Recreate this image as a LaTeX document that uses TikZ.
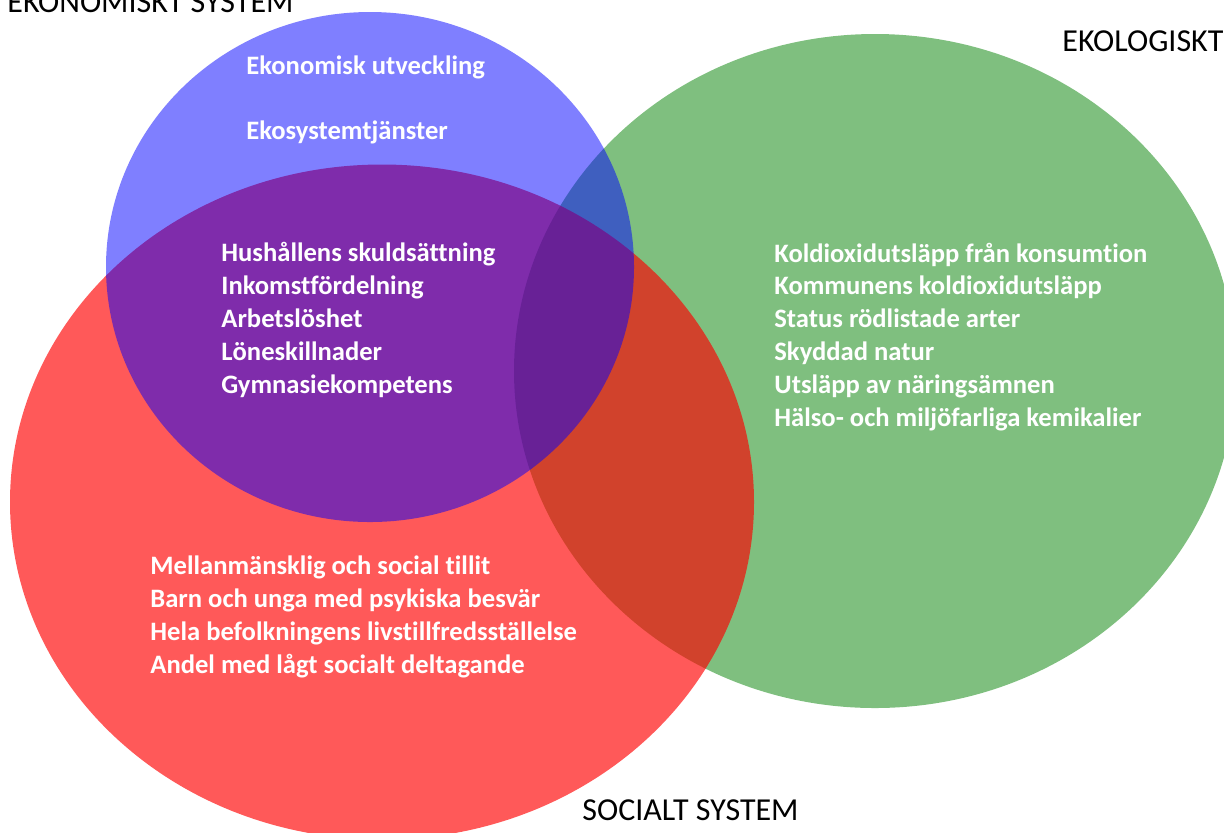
\documentclass[tikz,border=0pt]{standalone}
\usepackage{fontspec}
\setmainfont{Carlito}[Ligatures=NoCommon]
\definecolor{ecoblue}{RGB}{0,0,255}
\definecolor{socred}{RGB}{255,0,0}
\definecolor{ekogreen}{RGB}{0,128,0}
\tikzset{
  item/.style={anchor=base west, inner sep=0pt, text=white, font=\fontsize{13.3pt}{16.5pt}\selectfont\bfseries},
  syslabel/.style={anchor=base west, inner sep=0pt, text=black, font=\fontsize{16pt}{19pt}\selectfont},
}
\begin{document}
\begin{tikzpicture}[x=0.5pt,y=-0.5pt]
\useasboundingbox (0,0) rectangle (1224,832);
% ellipses: green, red, blue (blue on top)
\fill[ekogreen, fill opacity=0.5] (875,371) ellipse [x radius=180.5pt, y radius=168.5pt];
\fill[socred, fill opacity=0.65] (382,502) ellipse [x radius=186pt, y radius=168.75pt];
\fill[ecoblue, fill opacity=0.5] (370,267) ellipse [x radius=132pt, y radius=127.5pt];
% system labels
\node[syslabel] (lek) at (7,12) {EKONOMISKT SYSTEM};
\node[syslabel] (lko) at (1062,51) {EKOLOGISKT};
\node[syslabel] (lso) at (582,820) {SOCIALT SYSTEM};
% blue only
\node[item] (b1) at (246,74) {Ekonomisk utveckling};
\node[item] (b2) at (246,139) {Ekosystemtjänster};
% purple overlap
\foreach \t [count=\i] in {Hushållens skuldsättning, Inkomstfördelning, Arbetslöshet, Löneskillnader, Gymnasiekompetens}
  \node[item] (p\i) at (221,{261+33*(\i-1)}) {\t};
% green
\foreach \t [count=\i] in {Koldioxidutsläpp från konsumtion, Kommunens koldioxidutsläpp, Status rödlistade arter, Skyddad natur, Utsläpp av näringsämnen, Hälso- och miljöfarliga kemikalier}
  \node[item] (g\i) at (774,{262+32.8*(\i-1)}) {\t};
% red
\foreach \t [count=\i] in {Mellanmänsklig och social tillit, Barn och unga med psykiska besvär, Hela befolkningens livstillfredsställelse, Andel med lågt socialt deltagande}
  \node[item] (r\i) at (150,{574+33*(\i-1)}) {\t};
\end{tikzpicture}
\end{document}
